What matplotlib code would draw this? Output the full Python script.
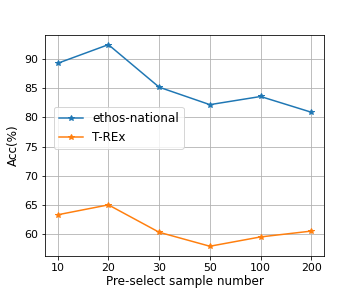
import numpy as np
import matplotlib.pyplot as plt

amostras = ['10', '20', '30', '50', '100', '200']
ethos = [89.3, 92.5, 85.2, 82.2, 83.6, 80.9]
trex = [63.3, 65.0, 60.3, 57.9, 59.5, 60.5]

def main():
    plt.rcParams['font.size'] = 12
    fig, ax = plt.subplots(figsize=(5, 4), dpi=72)
    x = np.arange(len(amostras))
    ax.plot(x, ethos, marker='*', label='ethos-national')
    ax.plot(x, trex, marker='*', label='T-REx')
    ax.set_xticks(x)
    ax.set_xticklabels(amostras)
    ax.tick_params(labelsize=11)
    ax.set_xlabel('Pre-select sample number', labelpad=2)
    ax.set_ylabel('Acc(%)')
    ax.grid(True)
    ax.legend(loc='upper left', bbox_to_anchor=(0.01, 0.70))
    fig.savefig('out.png')

if __name__ == "__main__":
    main()
